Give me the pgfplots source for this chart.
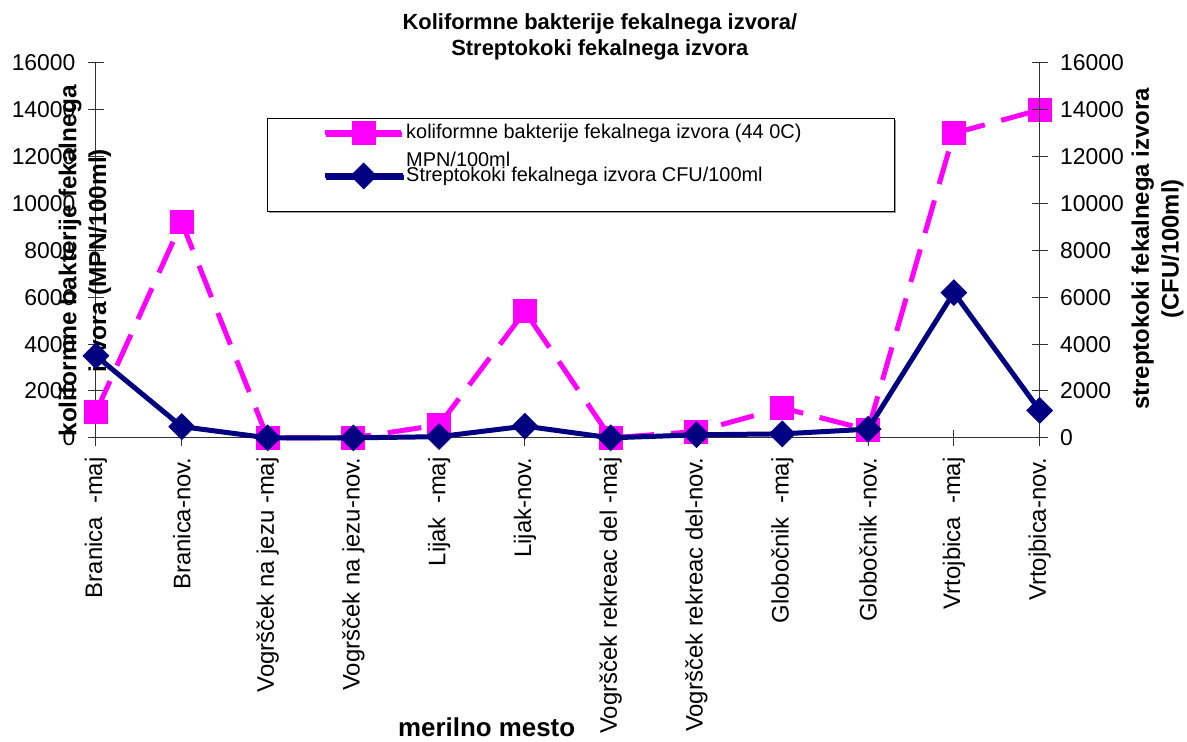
\documentclass[border=0pt]{standalone}
\usepackage{fontspec}
\setmainfont{Liberation Sans}
\usepackage{pgfplots}
\usepackage{pgfplotstable}
\pgfplotsset{compat=1.18}
\usetikzlibrary{shadows}
\definecolor{pinkc}{HTML}{FF00FF}
\definecolor{navyc}{HTML}{000080}

\pgfplotstableread{
x y
0 1100
1 9200
2 0
3 0
4 550
5 5400
6 0
7 270
8 1280
9 340
10 13000
11 14000
}\koli

\pgfplotstableread{
x y
0 3500
1 480
2 0
3 0
4 50
5 500
6 0
7 130
8 170
9 370
10 6200
11 1170
}\strep

\begin{document}
\begin{tikzpicture}
\pgfplotsset{
  every axis/.append style={
    scale only axis, width=944bp, height=375bp,
    xmin=0, xmax=11, ymin=0, ymax=16000,
    ytick={0,2000,...,16000},
    tick align=center, major tick length=16bp,
    every tick/.style={black!80, line width=1bp},
    axis line style={black!80, line width=1bp, -},
    yticklabel style={font=\fontsize{23}{26}\selectfont},
    yticklabel shift=9bp,
    /pgf/number format/assume math mode=true,
    /pgf/number format/1000 sep={},
    scaled y ticks=false,
    clip=false,
  },
}
\begin{axis}[
  axis y line*=left, axis x line*=bottom,
  xtick={0,...,11},
  xticklabels={Branica\ \ -maj, Branica-nov., Vogršček na jezu -maj, Vogršček na jezu-nov., Lijak\ \ -maj, Lijak-nov., Vogršček rekreac del -maj, Vogršček rekreac del-nov., Globočnik\ \ -maj, Globočnik -nov., Vrtojbica\ \ -maj, Vrtojbica-nov.},
  xticklabel style={rotate=90, anchor=east, font=\fontsize{24}{27}\selectfont},
  xticklabel shift=8bp,
  title={Koliformne bakterije fekalnega izvora/\\Streptokoki fekalnega izvora},
  title style={at={(axis description cs:0.534,1)}, anchor=center, yshift=20bp, align=center, font=\fontsize{22}{25.5}\selectfont\bfseries},
  xlabel={merilno mesto},
  xlabel style={at={(axis description cs:0.414,0)}, anchor=center, yshift=-289bp, font=\fontsize{26}{28}\selectfont\bfseries},
  ylabel={koliformne bakterije fekalnega\\izvora (MPN/100ml)},
  ylabel style={at={(axis description cs:-0.0117,0.472)}, anchor=center, align=center, font=\fontsize{24.5}{30}\selectfont\bfseries},
]
\addplot[pinkc, line width=5bp, dash pattern=on 34bp off 17bp, mark=square*, mark size=9.5bp, mark options={solid, fill=pinkc}] table {\koli};
\end{axis}
\begin{axis}[
  axis y line*=right, axis x line=none,
  xtick=\empty,
  ylabel={streptokoki fekalnega izvora\\(CFU/100ml)},
  ylabel style={at={(axis description cs:1.125,0.504)}, anchor=center, align=center, font=\fontsize{24}{30}\selectfont\bfseries},
  legend image code/.code={\path (-52bp,0bp); \draw[mark repeat=2,mark phase=2] plot coordinates {(0bp,6bp) (39bp,6bp) (78bp,6bp)};},
  legend style={at={(axis description cs:0.181,0.8533)}, anchor=north west, draw=black, line width=1bp, fill=white,
    inner xsep=3bp, inner ysep=5bp, font=\fontsize{20}{28}\selectfont,
    nodes={inner sep=1bp, text depth={}}, row sep=-2bp,
    cells={anchor=base west},
    /tikz/every odd column/.append style={column sep=0bp},
    drop shadow={shadow xshift=1.5bp, shadow yshift=-1.5bp, fill=gray!80, opacity=1}},
]
\addlegendimage{pinkc, line width=5bp, dash pattern=on 34bp off 8bp, mark=square*, mark size=9.5bp, mark options={solid, fill=pinkc}}
\addlegendentry{\parbox[t]{484bp}{koliformne bakterije fekalnega izvora (44 0C)\\MPN/100ml}}
\addplot[navyc, line width=5bp, mark=square*, mark size=7bp, mark options={solid, rotate=45, fill=navyc}] table {\strep};
\addlegendentry{Streptokoki fekalnega izvora CFU/100ml\rule[-24bp]{0pt}{0pt}}
\end{axis}
\path (-96bp,-304bp) rectangle (1091bp,438bp);
\end{tikzpicture}
\end{document}
